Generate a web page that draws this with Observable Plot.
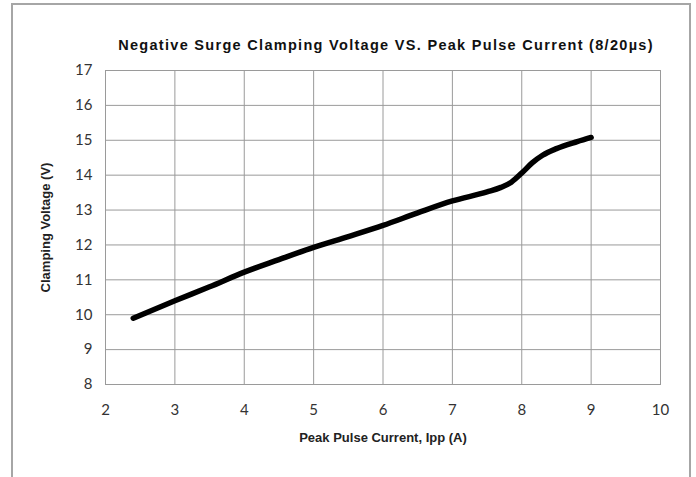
<!DOCTYPE html>
<html>
<head>
<meta charset="utf-8">
<script src="https://cdn.jsdelivr.net/npm/d3@7"></script>
<script src="https://cdn.jsdelivr.net/npm/@observablehq/plot@0.6"></script>
<style>
  html, body { margin: 0; padding: 0; background: #fff; }
  #wrap { position: relative; width: 696px; height: 477px; overflow: hidden; }
  #border { position: absolute; left: 11px; top: 3px; width: 680px; height: 500px; border: 2px solid #a6a6a6; box-sizing: border-box; }
  #chart { position: absolute; left: 0; top: 0; }
</style>
</head>
<body>
<div id="wrap"><div id="border"></div><div id="chart"></div></div>
<script>
const title = "Negative Surge Clamping Voltage VS. Peak Pulse Current (8/20µs)";
const xLabel = "Peak Pulse Current, Ipp (A)";
const yLabel = "Clamping Voltage (V)";
const xTicks = [2, 3, 4, 5, 6, 7, 8, 9, 10];
const yTicks = [8, 9, 10, 11, 12, 13, 14, 15, 16, 17];
const current = [2.4, 3.0, 3.5, 4.0, 4.5, 5.0, 5.5, 6.0, 6.5, 7.0, 7.5, 7.7, 7.85, 8.0, 8.15, 8.3, 8.5, 8.8, 9.0];
const voltage = [9.9, 10.4, 10.8, 11.22, 11.58, 11.93, 12.24, 12.56, 12.92, 13.26, 13.52, 13.65, 13.8, 14.06, 14.35, 14.57, 14.76, 14.96, 15.08];

const data = current.map((c, i) => ({c, v: voltage[i]}));
const labelFont = "Liberation Sans, Arial, sans-serif";

const plot = Plot.plot({
  width: 696,
  height: 477,
  marginLeft: 105,
  marginRight: 36,
  marginTop: 70,
  marginBottom: 93,
  style: {background: "transparent", fontFamily: "Lato, sans-serif", fontSize: "15px", color: "#333"},
  x: {domain: [2, 10], ticks: xTicks, tickSize: 0, tickPadding: 20, label: null},
  y: {domain: [8, 17], ticks: yTicks, tickSize: 0, tickPadding: 13, label: null},
  marks: [
    Plot.gridX(xTicks, {stroke: "#9a9a9a", strokeOpacity: 1, strokeWidth: 1}),
    Plot.gridY(yTicks, {stroke: "#9a9a9a", strokeOpacity: 1, strokeWidth: 1}),
    Plot.frame({stroke: "#9a9a9a", strokeWidth: 1}),
    Plot.line(data, {x: "c", y: "v", stroke: "#000", strokeWidth: 5.5, curve: "monotone-x"}),
    Plot.text([title], {frameAnchor: "top", lineAnchor: "middle", dy: -25, dx: 3, text: d => d, fontFamily: labelFont, fontWeight: "bold", fontSize: 14.5, fill: "#111"}),
    Plot.text([xLabel], {frameAnchor: "bottom", dy: 57, text: d => d, fontFamily: labelFont, fontWeight: "bold", fontSize: 13, fill: "#222"}),
    Plot.text([yLabel], {frameAnchor: "left", textAnchor: "middle", dx: -60, rotate: -90, text: d => d, fontFamily: labelFont, fontWeight: "bold", fontSize: 13, fill: "#222"})
  ]
});
d3.select(plot).selectAll("text").filter(function() { return this.textContent === title; }).style("letter-spacing", "1.3px");
document.getElementById("chart").appendChild(plot);
</script>
</body>
</html>
